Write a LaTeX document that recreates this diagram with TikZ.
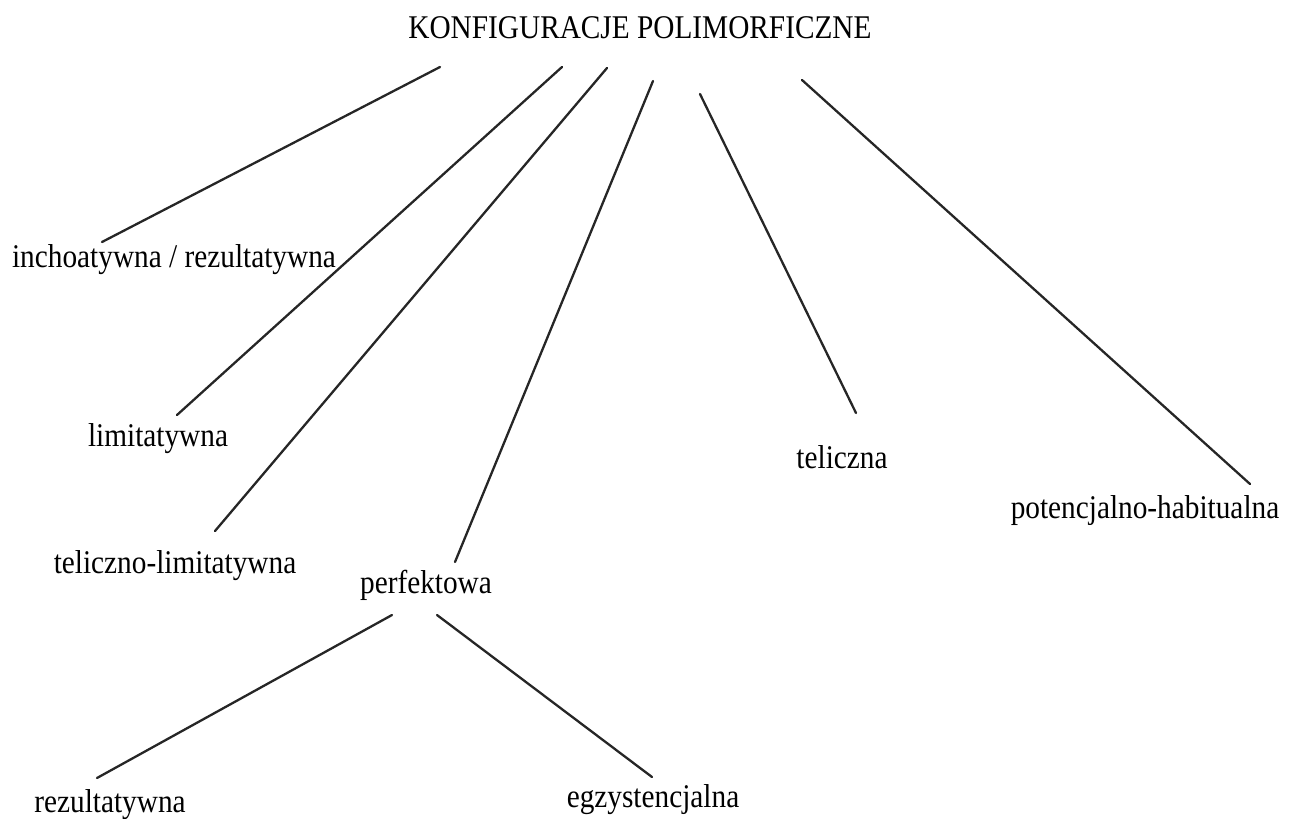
\documentclass[tikz,border=0pt]{standalone}
\usepackage{fontspec}
\setmainfont{Liberation Serif}
\usepackage{tikz}
\usetikzlibrary{positioning}
\tikzset{
  etykieta/.style={anchor=base, inner sep=0pt, font=\fontsize{14.65}{17}\selectfont},
  galaz/.style={line width=1.15pt, draw=black!85, line cap=round}
}
% tekst lekko wyciagniety w pionie
\newcommand{\napis}[1]{\scalebox{1}[1.13]{#1}}

\begin{document}
\begin{tikzpicture}[x=0.5pt, y=-0.5pt]
    \useasboundingbox (0,0) rectangle (1296,819);

    % -------------------------------------------------------------
    % ETYKIETY
    % -------------------------------------------------------------
    \node[etykieta] (tytul) at (640,39) {\napis{KONFIGURACJE POLIMORFICZNE}};

    \node[etykieta] (inchoat) at (174,267) {\napis{inchoatywna / rezultatywna}};
    \node[etykieta] (limit)   at (158,446) {\napis{limitatywna}};
    \node[etykieta] (telim)   at (175,573) {\napis{teliczno-limitatywna}};
    \node[etykieta] (perf)    at (426,593) {\napis{perfektowa}};
    \node[etykieta] (telicz)  at (842,468) {\napis{teliczna}};
    \node[etykieta] (potenc)  at (1145,518) {\napis{potencjalno-habitualna}};

    % poziom drugi (pod perfektowa)
    \node[etykieta] (rezult)  at (110,812) {\napis{rezultatywna}};
    \node[etykieta] (egzyst)  at (653,807) {\napis{egzystencjalna}};

    % -------------------------------------------------------------
    % PUNKTY ZACZEPIENIA GALEZI
    % -------------------------------------------------------------
    \coordinate (g1) at (440,67);  \coordinate (d1) at (102,242);  % inchoatywna
    \coordinate (g2) at (562,67);  \coordinate (d2) at (177,415);  % limitatywna
    \coordinate (g3) at (607,68);  \coordinate (d3) at (215,531);  % teliczno-limitatywna
    \coordinate (g4) at (653,81);  \coordinate (d4) at (455,562);  % perfektowa
    \coordinate (g5) at (700,94);  \coordinate (d5) at (856,413);  % teliczna
    \coordinate (g6) at (802,80);  \coordinate (d6) at (1250,484); % potencjalno-habitualna
    \coordinate (g7) at (392,615); \coordinate (d7) at (97,778);   % rezultatywna
    \coordinate (g8) at (437,615); \coordinate (d8) at (652,777);  % egzystencjalna

    % Galezie
    \foreach \i in {1,...,8} {
        \draw[galaz] (g\i) -- (d\i);
    }

\end{tikzpicture}
\end{document}
